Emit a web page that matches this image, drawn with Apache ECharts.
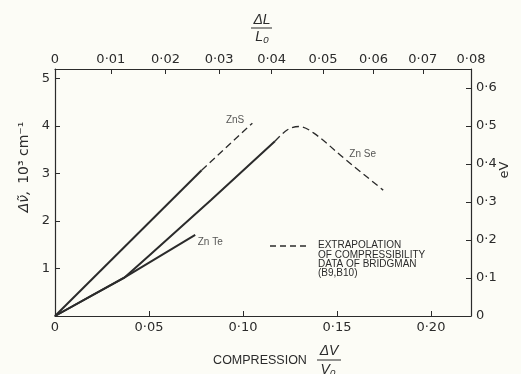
<!DOCTYPE html>
<html>
<head>
<meta charset="utf-8">
<script src="https://cdn.jsdelivr.net/npm/echarts@6/dist/echarts.min.js"></script>
<style>
  html, body { margin: 0; padding: 0; background: #fcfcf6; }
  #chart { width: 521px; height: 374px; }
</style>
</head>
<body>
<div id="chart"></div>
<script>
// compression ΔV/V0 vs shift Δν (10^3 cm^-1)
var znsSolid = [[0, 0], [0.078, 3.07]];
var znsDash = [[0.078, 3.07], [0.105, 4.06]];
var znseSolid = [[0, 0], [0.02, 0.44], [0.037, 0.81], [0.05, 1.27], [0.083, 2.44], [0.117, 3.68]];
var znseDash = [[0.117, 3.68], [0.1237, 3.92], [0.1298, 3.99], [0.1377, 3.85], [0.155, 3.28], [0.1746, 2.65]];
var znteSolid = [[0, 0], [0.0377, 0.83], [0.0746, 1.71]];

// curve names, placed in data coords
var curveLabels = [[0.0958, 4.12, 'ZnS'], [0.1637, 3.41, 'Zn Se'], [0.0826, 1.56, 'Zn Te']];

// tick labels
var bottomTicks = [0, 0.05, 0.10, 0.15, 0.20];
var bottomLabels = ['0', '0·05', '0·10', '0·15', '0·20'];
var leftTicks = [1, 2, 3, 4, 5];
var rightTicks = [0, 0.1, 0.2, 0.3, 0.4, 0.5, 0.6];
var rightLabels = ['0', '0·1', '0·2', '0·3', '0·4', '0·5', '0·6'];
var topStrain = [0, 0.01, 0.02, 0.03, 0.04, 0.05, 0.06, 0.07, 0.08];
var topLabels = ['0', '0·01', '0·02', '0·03', '0·04', '0·05', '0·06', '0·07', '0·08'];

var legendLines = ['EXTRAPOLATION', 'OF COMPRESSIBILITY', 'DATA OF BRIDGMAN', '(B9,B10)'];

// ΔL/L0 -> ΔV/V0 (linear strain to volume compression)
var topPos = topStrain.map(function (l) { return 1 - Math.pow(1 - l, 3); });
var xMax = topPos[topPos.length - 1];

var ink = '#2b2b2b';
var font = 'DejaVu Sans';

function pick(vals, labels, v) {
  for (var i = 0; i < vals.length; i++) {
    if (Math.abs(vals[i] - v) < 1e-6) return labels[i];
  }
  return '';
}

var chart = echarts.init(document.getElementById('chart'));

var solid = { color: ink, width: 2, type: 'solid' };
var dashed = { color: ink, width: 1.3, type: [7, 4] };
var tickFont = { color: ink, fontSize: 13, fontFamily: font };

chart.setOption({
  backgroundColor: '#fcfcf6',
  animation: false,
  textStyle: { fontFamily: font },
  grid: { left: 55, right: 50, top: 69, bottom: 58 },
  xAxis: [
    {
      type: 'value', position: 'bottom', min: 0, max: xMax,
      axisLine: { show: true, onZero: false, lineStyle: { color: ink, width: 1.2 } },
      axisTick: { show: true, inside: true, length: 5, customValues: bottomTicks.slice(1), lineStyle: { color: ink } },
      axisLabel: Object.assign({
        customValues: bottomTicks, margin: 5,
        formatter: function (v) { return pick(bottomTicks, bottomLabels, v); }
      }, tickFont),
      splitLine: { show: false }
    },
    {
      type: 'value', position: 'top', min: 0, max: xMax,
      axisLine: { show: true, onZero: false, lineStyle: { color: ink, width: 1.2 } },
      axisTick: { show: true, inside: true, length: 5, customValues: topPos.slice(1, -1), lineStyle: { color: ink } },
      axisLabel: Object.assign({
        customValues: topPos, margin: 3,
        formatter: function (v) { return pick(topPos, topLabels, v); }
      }, tickFont),
      splitLine: { show: false }
    }
  ],
  yAxis: [
    {
      type: 'value', position: 'left', min: 0, max: 5.2,
      axisLine: { show: true, onZero: false, lineStyle: { color: ink, width: 1.2 } },
      axisTick: { show: true, inside: true, length: 5, customValues: leftTicks, lineStyle: { color: ink } },
      axisLabel: Object.assign({ customValues: leftTicks, margin: 5 }, tickFont),
      splitLine: { show: false }
    },
    {
      type: 'value', position: 'right', min: 0, max: 0.65,
      axisLine: { show: true, onZero: false, lineStyle: { color: ink, width: 1.2 } },
      axisTick: { show: true, inside: true, length: 5, customValues: rightTicks.slice(1), lineStyle: { color: ink } },
      axisLabel: Object.assign({
        customValues: rightTicks, margin: 5,
        formatter: function (v) { return pick(rightTicks, rightLabels, v); }
      }, tickFont),
      splitLine: { show: false }
    }
  ],
  series: [
    { name: 'ZnS', type: 'line', data: znsSolid, showSymbol: false, lineStyle: solid },
    { name: 'ZnS extrap', type: 'line', data: znsDash, showSymbol: false, lineStyle: dashed },
    { name: 'ZnSe', type: 'line', data: znseSolid, showSymbol: false, lineStyle: solid },
    { name: 'ZnSe extrap', type: 'line', data: znseDash, showSymbol: false, smooth: 0.35, lineStyle: dashed },
    { name: 'ZnTe', type: 'line', data: znteSolid, showSymbol: false, lineStyle: solid },
    {
      name: 'labels', type: 'scatter', data: curveLabels, symbolSize: 0,
      label: {
        show: true, position: 'inside', color: ink, fontSize: 10, fontFamily: 'Liberation Sans',
        formatter: function (p) { return p.value[2]; }
      }
    }
  ],
  graphic: [
    // left axis name
    {
      type: 'text', x: 24, y: 167, rotation: Math.PI / 2,
      style: {
        text: '{a|Δν̃,}  {b|10³ cm⁻¹}', fill: ink, align: 'center', verticalAlign: 'middle',
        rich: {
          a: { font: 'italic 14px ' + font, fill: ink },
          b: { font: '14px ' + font, fill: ink }
        }
      }
    },
    // right axis name
    {
      type: 'text', x: 505, y: 170, rotation: Math.PI / 2,
      style: { text: 'eV', font: '13px ' + font, fill: ink, align: 'center', verticalAlign: 'middle' }
    },
    // top axis name ΔL / L0
    { type: 'text', x: 262, y: 20, style: { text: 'ΔL', font: 'italic 14px Liberation Sans', fill: ink, align: 'center', verticalAlign: 'middle' } },
    { type: 'line', shape: { x1: 251, y1: 28, x2: 272, y2: 28 }, style: { stroke: ink, lineWidth: 1 } },
    { type: 'text', x: 262, y: 37, style: { text: 'L₀', font: 'italic 14px Liberation Sans', fill: ink, align: 'center', verticalAlign: 'middle' } },
    // bottom axis name
    { type: 'text', x: 260, y: 361, style: { text: 'COMPRESSION', font: '12.5px Liberation Sans', fill: ink, align: 'center', verticalAlign: 'middle' } },
    { type: 'text', x: 329, y: 351, style: { text: 'ΔV', font: 'italic 14px Liberation Sans', fill: ink, align: 'center', verticalAlign: 'middle' } },
    { type: 'line', shape: { x1: 317, y1: 360, x2: 341, y2: 360 }, style: { stroke: ink, lineWidth: 1 } },
    { type: 'text', x: 328, y: 370, style: { text: 'V₀', font: 'italic 14px Liberation Sans', fill: ink, align: 'center', verticalAlign: 'middle' } },
    // legend for dashed lines
    { type: 'line', shape: { x1: 270, y1: 246, x2: 309, y2: 246 }, style: { stroke: ink, lineWidth: 1.3, lineDash: [6, 4] } },
    {
      type: 'text', x: 318, y: 241,
      style: { text: legendLines.join('\n'), font: '10px Liberation Sans', lineHeight: 9.2, fill: ink, align: 'left', verticalAlign: 'top' }
    }
  ]
});
</script>
</body>
</html>
